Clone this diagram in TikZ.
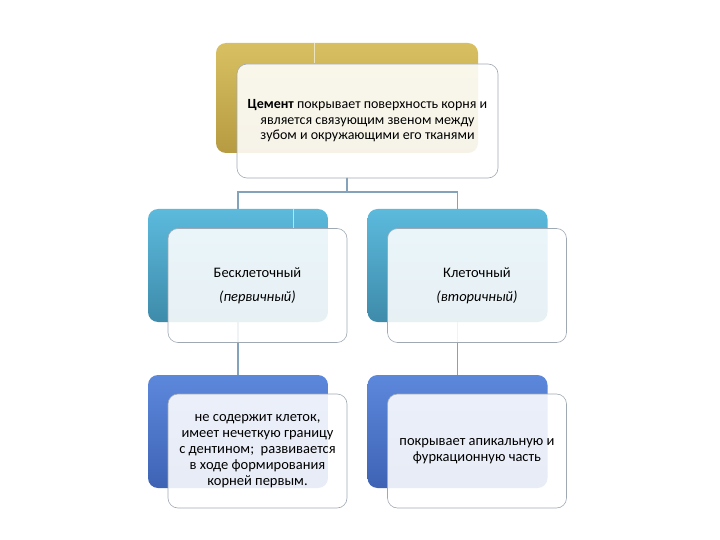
\documentclass[tikz,border=0pt]{standalone}
\usepackage{fontspec}
\setmainfont{Carlito}
\begin{document}
\begin{tikzpicture}[x=1pt,y=-1pt,
  conn/.style={draw=linec, line width=1.1pt},
  back/.style={rounded corners=10pt, minimum width=180pt, minimum height=113pt, inner sep=0pt},
  goldbox/.style={back, top color=goldT, bottom color=goldB, minimum width=262pt, minimum height=110pt},
  cyanbox/.style={back, top color=cyanT, bottom color=cyanB},
  bluebox/.style={back, top color=blueT, bottom color=blueB},
  front/.style={draw=frameC, line width=0.6pt, rounded corners=10pt, fill=white, fill opacity=0.88, text opacity=1,
     minimum width=179pt, minimum height=114pt, inner sep=0pt, align=center, font=\fontsize{14.5}{16}\selectfont},
  ghost/.style={draw=white, opacity=0.6, line width=0.8pt}
]
\definecolor{goldT}{HTML}{D8C062}
\definecolor{goldB}{HTML}{B79B42}
\definecolor{cyanT}{HTML}{5CBADD}
\definecolor{cyanB}{HTML}{3E8BAA}
\definecolor{blueT}{HTML}{5C88DC}
\definecolor{blueB}{HTML}{3E63B5}
\definecolor{linec}{HTML}{84A3BA}
\definecolor{frameC}{HTML}{9FA9B3}
\useasboundingbox (0,0) rectangle (720,540);
\fill[white] (0,0) rectangle (720,540);

\coordinate (j) at (347,192);
\node[goldbox] (tback) at (347,98) {};
\node[cyanbox] (lback) at (238,265.5) {};
\node[cyanbox] (rback) at (457.5,265.5) {};
\node[bluebox] (llback) at (238,431.5) {};
\node[bluebox] (rlback) at (457.5,431.5) {};
\draw[ghost] (314,43) -- (314,63);
\draw[ghost] (293,209) -- (293,228);

\draw[conn] (tback.center |- 0,177) -- (j) -| (lback.north);
\draw[conn] (j) -| (rback.north);
\draw[conn] (lback.center |- 0,322) -- (llback.north);
\draw[conn] (rback.center |- 0,322) -- (rlback.north);

\node[front, minimum width=261pt, font=\fontsize{14}{15.5}\selectfont] (tfront) at (367.5,121)
  {\textbf{Цемент} покрывает поверхность корня и\\является связующим звеном между\\зубом и окружающими его тканями};
\node[front, font=\fontsize{14.5}{24}\selectfont] (lfront) at (257.5,285.5)
  {Бесклеточный\\\textit{(первичный)}};
\node[front, font=\fontsize{14.5}{24}\selectfont] (rfront) at (477,285.5)
  {Клеточный\\\textit{(вторичный)}};
\node[front] (llfront) at (257.5,451)
  {не содержит клеток,\\имеет нечеткую границу\\с дентином;\ \ развивается\\в ходе формирования\\корней первым.};
\node[front] (rlfront) at (477,451)
  {покрывает апикальную и\\фуркационную часть};
\end{tikzpicture}
\end{document}
